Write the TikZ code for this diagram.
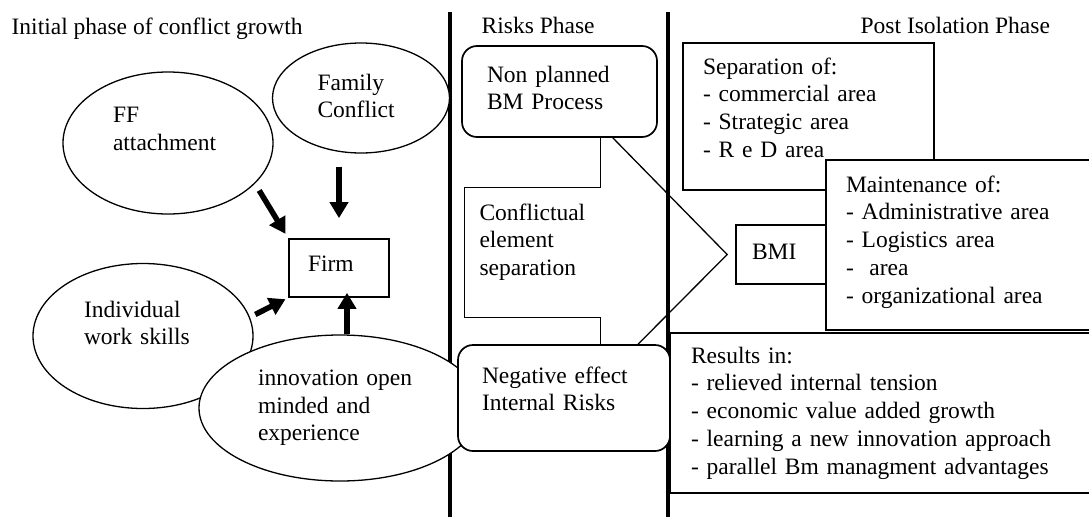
\documentclass[tikz,border=0pt]{standalone}
\usepackage{fontspec}
\setmainfont{Liberation Serif}
\usetikzlibrary{arrows.meta,shapes.geometric}
\tikzset{
  oval/.style={ellipse,draw,fill=white,inner sep=0pt,align=left},
  box/.style={rectangle,draw,fill=white,line width=1.7pt,inner sep=0pt,align=left},
  rbox/.style={box,rounded corners=15pt},
  lift/.style={text depth=#1pt},
  fat/.style={line width=5.5pt,-{Triangle[length=16pt,width=18pt]}},
  bar/.style={line width=4pt},
  hd/.style={anchor=base west,inner sep=0pt},
  every picture/.style={line width=1.3pt},
}

\begin{document}
\begin{tikzpicture}[x=1pt,y=-1pt,font=\fontsize{23.5}{27.7}\selectfont]
\useasboundingbox (0,0) rectangle (1089,517);
% phase titles and separators
\node[hd] (ph1) at (11,34) {Initial phase of conflict growth};
\node[hd] (ph2) at (481,33) {Risks Phase};
\node[hd] (ph3) at (860,33) {Post Isolation Phase};
\draw[bar] (450,12) -- (450,517);
\draw[bar] (668,12) -- (668,517);

% initial phase
\node[oval,minimum width=210pt,minimum height=142pt,text width=110pt,lift=56] (ff) at (168,143) {FF\\attachment};
\node[oval,minimum width=177pt,minimum height=110pt,text width=87pt,lift=32] (fam) at (361,98) {Family\\Conflict};
\node[oval,minimum width=220pt,minimum height=145pt,text width=118pt,lift=54] (ind) at (143,336) {Individual\\work skills};
\node[box,minimum width=100pt,minimum height=58pt,text width=62pt,lift=8] (firm) at (339,268) {Firm};
\node[oval,minimum width=282pt,minimum height=146pt,text width=164pt] (inn) at (340,408) {innovation open\\minded and\\experience};
\draw[fat,shorten <=8pt,shorten >=5pt] (ff.-25) -- (firm.north west);
\draw[fat,shorten <=13pt,shorten >=20pt] (fam.south -| firm.north) -- (firm.north);
\draw[fat,shorten <=6pt,shorten >=3pt] (ind.10) -- (firm.south west);
\draw[fat,shorten >=-5pt] (inn.north -| firm.-75) -- (firm.-75);

% risks phase
\node[rbox,minimum width=195pt,minimum height=91pt,text width=145pt,lift=35] (np) at (559.5,91.5) {Non planned\\BM Process};
\node[minimum width=135pt,minimum height=129pt,inner sep=0pt,text width=106pt,align=left,lift=81] (cs) at (532.5,252.5) {Conflictual\\element\\separation};
\node[rbox,minimum width=212pt,minimum height=106pt,text width=164pt,lift=46] (neg) at (564,398) {Negative effect\\Internal Risks};
\draw (np.south -| cs.east) -- (cs.north east) -- (cs.north west) -- (cs.south west) -- (cs.south east) -- (neg.north -| cs.east);

% post isolation phase
\node[box,minimum width=92pt,minimum height=59pt,text width=60pt,lift=5] (bmi) at (782,254.5) {BMI};
\coordinate (tip) at ([xshift=-8pt]bmi.west);
\draw (np.-41) -- (tip) -- (neg.36);
\node[box,minimum width=251pt,minimum height=147pt,text width=211pt,lift=101] (sep) at (808.5,116.5) {Separation of:\\- commercial area\\- Strategic area\\- R e D area};
\node[box,minimum width=274pt,minimum height=170pt,text width=234pt,lift=122] (mnt) at (963,245) {Maintenance of:\\- Administrative area\\- Logistics area\\- \ area\\- organizational area};
\node[box,minimum width=430pt,minimum height=160pt,text width=388pt] (res) at (885,413) {Results in:\\- relieved internal tension\\- economic value added growth\\- learning a new innovation approach\\- parallel Bm managment advantages};
\end{tikzpicture}
\end{document}
